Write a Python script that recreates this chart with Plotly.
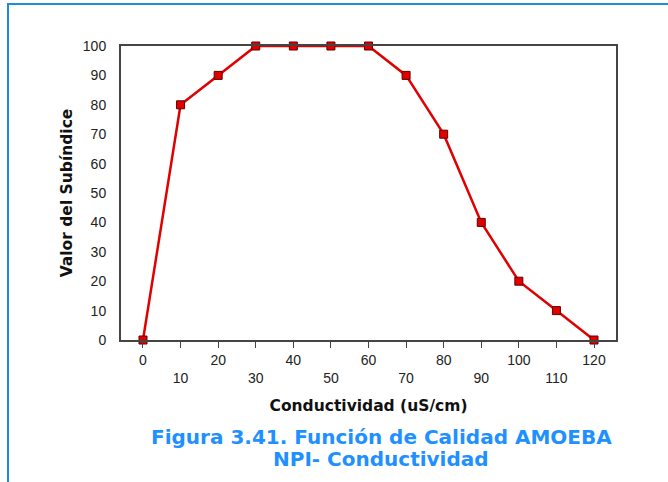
import plotly.graph_objects as go

conductividad = [0, 10, 20, 30, 40, 50, 60, 70, 80, 90, 100, 110, 120]
subindice = [0, 80, 90, 100, 100, 100, 100, 90, 70, 40, 20, 10, 0]
x_tick_labels = ["0", "10", "20", "30", "40", "50", "60", "70", "80", "90", "100", "110", "120"]
y_ticks = [0, 10, 20, 30, 40, 50, 60, 70, 80, 90, 100]
caption_lines = ["Figura 3.41. Función de Calidad AMOEBA", "NPI- Conductividad"]

ticktext = [t if i % 2 == 0 else "<br>" + t for i, t in enumerate(x_tick_labels)]

L, R, T, B = 121, 616, 46, 340
W = R - L
H = B - T

fig = go.Figure()
fig.add_trace(go.Scatter(
    x=conductividad, y=subindice, mode="lines+markers",
    line=dict(color="#e00000", width=2.5),
    marker=dict(symbol="square", size=8, color="#e00000",
                line=dict(color="#600000", width=1)),
    cliponaxis=False, showlegend=False,
))

fig.update_layout(
    width=668, height=482,
    margin=dict(l=L, r=668 - R, t=T, b=482 - B),
    paper_bgcolor="white", plot_bgcolor="white",
    font=dict(family="Liberation Sans, Arial", size=14, color="#222"),
    xaxis=dict(
        range=[-5.85, 125.85], tickmode="array", tickvals=conductividad, ticktext=ticktext,
        showgrid=False, zeroline=False, showline=True, mirror=True,
        linecolor="#444", linewidth=2, ticks="outside", ticklen=6, tickcolor="#444",
        tickfont=dict(family="Liberation Sans, Arial", size=14, color="#222"),
        title=dict(text="<b>Conductividad (uS/cm)</b>",
                   font=dict(family="DejaVu Sans", size=15.5, color="#111"), standoff=15),
    ),
    yaxis=dict(
        range=[0, 100], tickmode="array", tickvals=y_ticks,
        showgrid=False, zeroline=False, showline=True, mirror=True,
        linecolor="#444", linewidth=2, ticks="", ticklabelstandoff=10,
        tickfont=dict(family="Liberation Sans, Arial", size=14, color="#222"),
        title=dict(text="<b>Valor del Subíndice</b>",
                   font=dict(family="DejaVu Sans", size=15.5, color="#111"), standoff=6),
    ),
    shapes=[dict(type="rect", xref="paper", yref="paper",
                 x0=(8 - L) / W, x1=1.3, y0=-0.6, y1=(B - 4) / H,
                 line=dict(color="#1a8fd8", width=2), layer="below")],
    annotations=[
        dict(text="<b>" + line + "</b>", xref="paper", yref="paper",
             x=(381 - L) / W, y=(B - yc) / H,
             xanchor="center", yanchor="middle", showarrow=False,
             font=dict(family="DejaVu Sans", size=20, color="#1e90ff"))
        for line, yc in zip(caption_lines, [437, 459])
    ],
)

fig.write_html("out.html", config={"displayModeBar": False},
               post_script="document.body.style.margin='0';")
